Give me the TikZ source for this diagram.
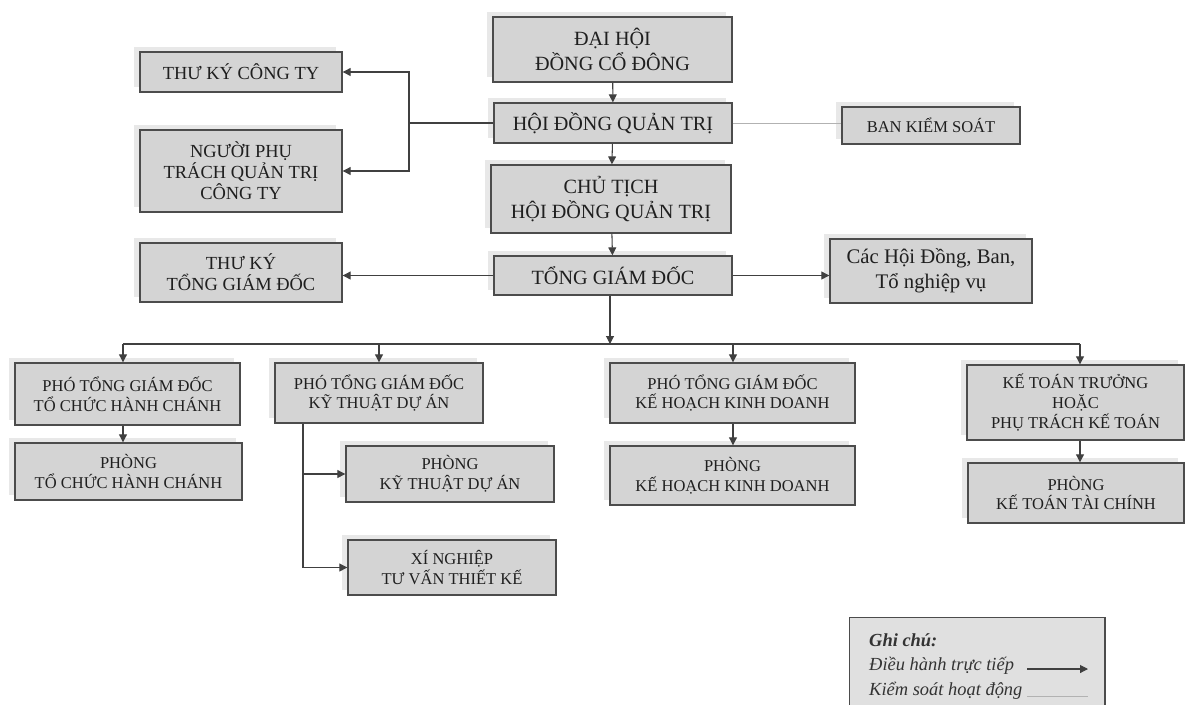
\documentclass[tikz,border=0pt]{standalone}
\usepackage{fontspec}
\setmainfont{Liberation Serif}
\usetikzlibrary{arrows.meta, shadows}

\tikzset{
  box/.style={draw=black!70, line width=0.8pt, fill=black!17, text=black!88,
    align=center, inner sep=1pt,
    general shadow={fill=black!9, shadow xshift=-3.2pt, shadow yshift=2.8pt}},
  fsmall/.style={font=\fontsize{9.4}{11.3}\selectfont},
  fleft/.style={font=\fontsize{10.5}{12}\selectfont},
  fbig/.style={font=\fontsize{11.5}{14}\selectfont},
  flegend/.style={font=\fontsize{10.5}{12}\selectfont\itshape, text=black!80, anchor=west},
  arr/.style={draw=black!75, line width=0.6pt, -{Triangle[length=4.5pt,width=4.5pt]}},
  link/.style={draw=black!75, line width=0.6pt},
  ctrl/.style={draw=black!30, line width=0.4pt},
}

\begin{document}
\begin{tikzpicture}[x=0.02cm, y=-0.02cm]
  \useasboundingbox[fill=white] (0,0) rectangle (1187,704);

  % centre column
  \node[box, fbig, minimum width=4.78cm, minimum height=1.3cm] (dhcd) at (612.5,49.5) {ĐẠI HỘI\\ĐỒNG CỔ ĐÔNG};
  \node[box, fbig, minimum width=4.76cm, minimum height=0.8cm] (hdqt) at (613,123) {HỘI ĐỒNG QUẢN TRỊ};
  \node[box, fbig, minimum width=4.8cm, minimum height=1.36cm] (ct) at (611,199) {CHỦ TỊCH\\HỘI ĐỒNG QUẢN TRỊ};
  \node[box, fbig, minimum width=4.76cm, minimum height=0.78cm] (tgd) at (613,275.5) {TỔNG GIÁM ĐỐC};

  % left column
  \node[box, fleft, minimum width=4.04cm, minimum height=0.8cm] (tkct) at (241,72) {THƯ KÝ CÔNG TY};
  \node[box, fleft, minimum width=4.04cm, minimum height=1.64cm] (nptqt) at (241,171) {NGƯỜI PHỤ\\TRÁCH QUẢN TRỊ\\CÔNG TY};
  \node[box, fleft, minimum width=4.04cm, minimum height=1.18cm] (tktgd) at (241,272.5) {THƯ KÝ\\TỔNG GIÁM ĐỐC};

  % right column
  \node[box, fsmall, minimum width=3.56cm, minimum height=0.74cm] (bks) at (931,125.5) {BAN KIỂM SOÁT};
  \node[box, font=\fontsize{11.8}{14}\selectfont, minimum width=4.04cm, minimum height=1.28cm] (cachd) at (931,271) {Các Hội Đồng, Ban,\\Tổ nghiệp vụ};

  % lower rows
  \node[box, fsmall, minimum width=4.5cm, minimum height=1.24cm] (ptcc) at (127.5,394) {PHÓ TỔNG GIÁM ĐỐC\\TỔ CHỨC HÀNH CHÁNH};
  \node[box, fsmall, minimum width=4.54cm, minimum height=1.14cm] (phtc) at (128.5,471.5) {PHÒNG\\TỔ CHỨC HÀNH CHÁNH};
  \node[box, fsmall, minimum width=4.16cm, minimum height=1.2cm] (pkt) at (379,393) {PHÓ TỔNG GIÁM ĐỐC\\KỸ THUẬT DỰ ÁN};
  \node[box, fsmall, minimum width=4.16cm, minimum height=1.12cm] (phkt) at (450,474) {PHÒNG\\KỸ THUẬT DỰ ÁN};
  \node[box, fsmall, minimum width=4.16cm, minimum height=1.1cm] (xn) at (452,567.5) {XÍ NGHIỆP\\TƯ VẤN THIẾT KẾ};
  \node[box, fsmall, minimum width=4.9cm, minimum height=1.2cm] (pkh) at (732.5,393) {PHÓ TỔNG GIÁM ĐỐC\\KẾ HOẠCH KINH DOANH};
  \node[box, fsmall, minimum width=4.9cm, minimum height=1.18cm] (phkh) at (732.5,475.5) {PHÒNG\\KẾ HOẠCH KINH DOANH};
  \node[box, fsmall, minimum width=4.34cm, minimum height=1.5cm] (ktt) at (1075.5,402.5) {KẾ TOÁN TRƯỞNG\\HOẶC\\PHỤ TRÁCH KẾ TOÁN};
  \node[box, fsmall, minimum width=4.32cm, minimum height=1.2cm] (phkttc) at (1076,493) {PHÒNG\\KẾ TOÁN TÀI CHÍNH};

  % connectors
  \coordinate (jl) at (409,123);
  \coordinate (bus) at (610,344);
  \coordinate (ktx) at (303,0);

  \draw[arr] (dhcd) -- (hdqt);
  \draw[arr] (hdqt) -- (ct);
  \draw[arr] (ct) -- (tgd);
  \draw[link] (hdqt.west) -- (jl);
  \draw[arr] (jl) |- (tkct.east);
  \draw[arr] (jl) |- (nptqt.east);
  \draw[ctrl] (hdqt.east) -- (hdqt.east -| bks.west);
  \draw[arr] (tgd.west) -- (tgd.west -| tktgd.east);
  \draw[arr] (tgd.east) -- (tgd.east -| cachd.west);

  \draw[arr] (tgd.south -| bus) -- (bus);
  \foreach \n/\m/\x in {ptcc/phtc/123, pkt/phkt/379, pkh/phkh/733, ktt/phkttc/1080} {
    \coordinate (\n-d) at (\x,344);
    \draw[arr] (\n-d) -- (\n-d |- \n.north);
  }
  \draw[link] (ptcc-d) -- (ktt-d);

  \draw[arr] (ptcc.south -| ptcc-d) -- (phtc.north -| ptcc-d);
  \draw[arr] (pkh.south -| pkh-d) -- (phkh.north -| pkh-d);
  \draw[arr] (ktt.south -| ktt-d) -- (phkttc.north -| ktt-d);
  \draw[arr] (pkt.south -| ktx) |- (phkt.west);
  \draw[arr] (pkt.south -| ktx) |- (xn.west);

  % legend
  \node[draw=black!70, line width=0.6pt, fill=black!12, minimum width=5.12cm, minimum height=1.9cm] (legend) at (977,665) {};
  \node[flegend, font=\fontsize{10.5}{12}\selectfont\bfseries\itshape] (ghichu) at (863,640) {Ghi chú:};
  \node[flegend] (dhtt) at (863,666) {Điều hành trực tiếp};
  \node[flegend] (ksh) at (863,691) {Kiểm soát hoạt động};
  \coordinate (la) at (1027,669);
  \coordinate (lb) at (1088,669);
  \coordinate (lc) at (1027,696);
  \coordinate (ld) at (1088,696);
  \draw[arr] (la) -- (lb);
  \draw[ctrl] (lc) -- (ld);
\end{tikzpicture}
\end{document}
